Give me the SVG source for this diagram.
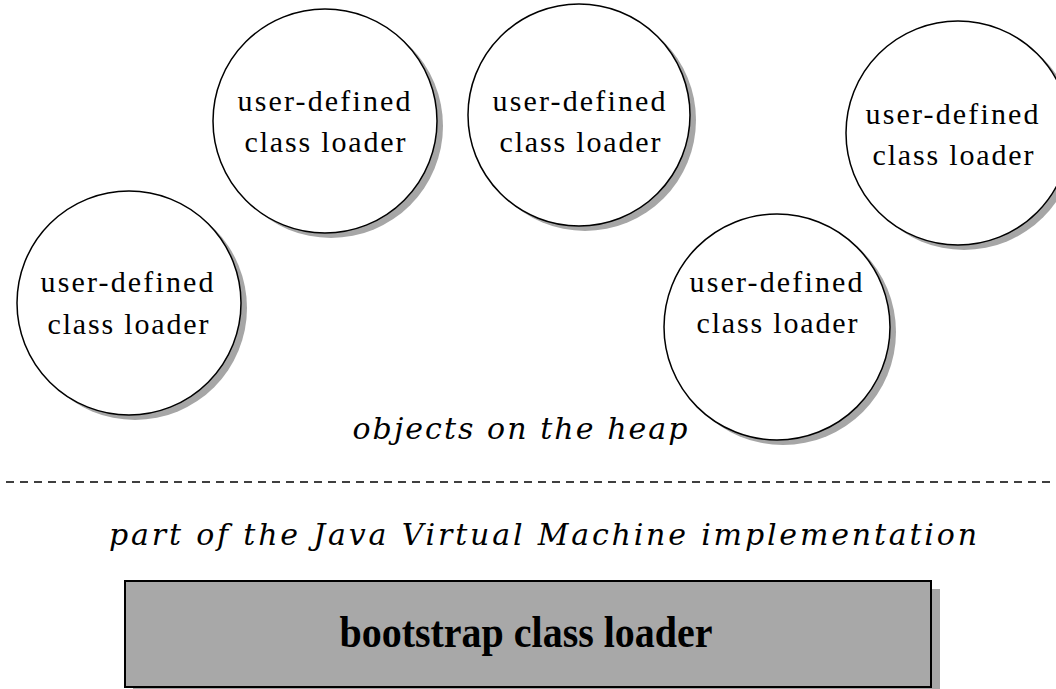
<svg xmlns="http://www.w3.org/2000/svg" width="1056" height="689" viewBox="0 0 1056 689">
  <style>
    .shadow { fill: #a6a6a6; }
    .loader { fill: #ffffff; stroke: #000000; stroke-width: 1.5; }
    .label { font-family: "Liberation Serif", "Times New Roman", serif; font-size: 30px; fill: #000; text-anchor: middle; }
    .note { font-family: "DejaVu Serif", "Liberation Serif", serif; font-style: italic; font-size: 30px; fill: #000; text-anchor: middle; }
    .boot { font-family: "Liberation Serif", "Times New Roman", serif; font-weight: bold; font-size: 44px; fill: #000; text-anchor: middle; }
  </style>
  <rect width="1056" height="689" fill="#ffffff"/>

  <!-- user-defined class loaders (objects on the heap) -->
  <g id="loader1">
    <circle class="shadow" cx="135" cy="308" r="112"/>
    <circle class="loader" cx="129" cy="303" r="112"/>
    <text class="label" x="127" y="292" textLength="173" lengthAdjust="spacing">user-defined</text>
    <text class="label" x="128" y="334" textLength="161" lengthAdjust="spacing">class loader</text>
  </g>
  <g id="loader2">
    <circle class="shadow" cx="331" cy="126" r="112"/>
    <circle class="loader" cx="325" cy="121" r="112"/>
    <text class="label" x="324" y="111" textLength="173" lengthAdjust="spacing">user-defined</text>
    <text class="label" x="325" y="152" textLength="161" lengthAdjust="spacing">class loader</text>
  </g>
  <g id="loader3">
    <circle class="shadow" cx="585" cy="120" r="111"/>
    <circle class="loader" cx="579" cy="115" r="111"/>
    <text class="label" x="579" y="111" textLength="173" lengthAdjust="spacing">user-defined</text>
    <text class="label" x="580" y="152" textLength="161" lengthAdjust="spacing">class loader</text>
  </g>
  <g id="loader4">
    <circle class="shadow" cx="783" cy="332" r="113"/>
    <circle class="loader" cx="777" cy="327" r="113"/>
    <text class="label" x="776" y="292" textLength="173" lengthAdjust="spacing">user-defined</text>
    <text class="label" x="777" y="333" textLength="161" lengthAdjust="spacing">class loader</text>
  </g>
  <g id="loader5">
    <circle class="shadow" cx="964" cy="138" r="112"/>
    <circle class="loader" cx="958" cy="133" r="112"/>
    <text class="label" x="952" y="124" textLength="173" lengthAdjust="spacing">user-defined</text>
    <text class="label" x="953" y="165" textLength="161" lengthAdjust="spacing">class loader</text>
  </g>

  <text id="heap-label" class="note" x="520" y="439" textLength="335" lengthAdjust="spacing">objects on the heap</text>

  <!-- boundary between heap objects and the JVM implementation -->
  <g id="connectors">
    <line x1="6" y1="482" x2="1052" y2="482" stroke="#000" stroke-width="1.5" stroke-dasharray="8,6"/>
  </g>

  <text id="jvm-label" class="note" x="543" y="545" textLength="868" lengthAdjust="spacing">part of the Java Virtual Machine implementation</text>

  <g id="bootstrap">
    <rect class="shadow" x="133" y="589" width="807" height="110"/>
    <rect x="125" y="581" width="806" height="106" fill="#a8a8a8" stroke="#000" stroke-width="2"/>
    <text class="boot" x="526" y="647" textLength="373" lengthAdjust="spacingAndGlyphs">bootstrap class loader</text>
  </g>
</svg>
